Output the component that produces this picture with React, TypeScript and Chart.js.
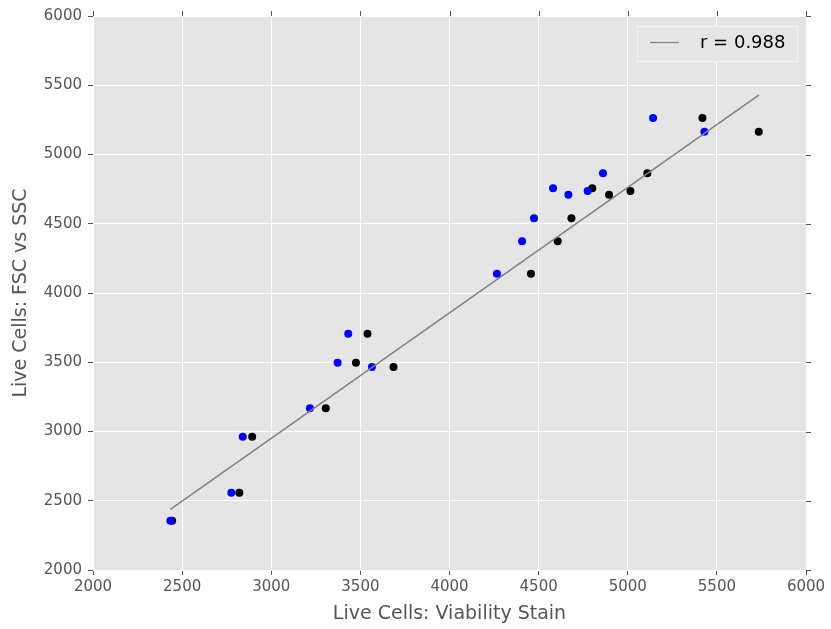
import React, { useEffect, useRef } from "react";
import { Chart, registerables } from "chart.js";

Chart.register(...registerables);

// Paired measurements: each FSC-vs-SSC count has two viability-stain readings
const fscSsc = [2356, 2558, 2962, 3167, 3497, 3706, 3466, 4139, 4373, 4539, 4756, 4710, 4736, 4864, 5264, 5165];
const stainBlue = [2434, 2776, 2840, 3217, 3372, 3432, 3565, 4266, 4407, 4474, 4581, 4667, 4775, 4861, 5142, 5430];
const stainBlack = [2444, 2821, 2893, 3306, 3475, 3540, 3686, 4457, 4607, 4684, 4801, 4895, 5015, 5110, 5419, 5735];

// Linear fit through the data
const fitSlope = 0.906;
const fitIntercept = 233;
const fitLabel = "r = 0.988";

const axisTicks = [2000, 2500, 3000, 3500, 4000, 4500, 5000, 5500, 6000];

const TICK_COLOR = "#555555";
const FONT = "'DejaVu Sans', sans-serif";

const allX = [...stainBlue, ...stainBlack];
const fitX = [Math.min(...allX), Math.max(...allX)];

const panelPlugin = {
  id: "panel",
  beforeDraw(chart: any) {
    const { ctx, chartArea: a } = chart;
    ctx.save();
    ctx.fillStyle = "#e5e5e5";
    ctx.fillRect(a.left, a.top, a.right - a.left, a.bottom - a.top);
    ctx.restore();
  },
  afterDraw(chart: any) {
    const { ctx, chartArea: a, scales } = chart;
    ctx.save();
    // tick marks on the top and right edges
    ctx.strokeStyle = TICK_COLOR;
    ctx.lineWidth = 1;
    ctx.beginPath();
    for (const t of axisTicks) {
      const px = Math.round(scales.x.getPixelForValue(t)) + 0.5;
      ctx.moveTo(px, a.top);
      ctx.lineTo(px, a.top - 5);
      const py = Math.round(scales.y.getPixelForValue(t)) + 0.5;
      ctx.moveTo(a.right, py);
      ctx.lineTo(a.right + 5, py);
    }
    ctx.stroke();

    // legend box in the upper right
    const bw = 160;
    const bh = 35;
    const bx = a.right - 9 - bw;
    const by = a.top + 10;
    ctx.fillStyle = "#e5e5e5";
    ctx.fillRect(bx, by, bw, bh);
    ctx.strokeStyle = "#f4f4f4";
    ctx.lineWidth = 1;
    ctx.strokeRect(bx + 0.5, by + 0.5, bw, bh);
    ctx.strokeStyle = "#808080";
    ctx.lineWidth = 1.2;
    ctx.beginPath();
    ctx.moveTo(bx + 13, by + 16.5);
    ctx.lineTo(bx + 42, by + 16.5);
    ctx.stroke();
    ctx.fillStyle = "#000000";
    ctx.font = `18px ${FONT}`;
    ctx.textBaseline = "middle";
    ctx.textAlign = "left";
    ctx.fillText(fitLabel, bx + 63, by + 17.5);
    ctx.restore();
  },
};

export default function App() {
  const ref = useRef<HTMLCanvasElement | null>(null);

  useEffect(() => {
    if (!ref.current) return;
    const chart = new Chart(ref.current, {
      type: "scatter",
      data: {
        datasets: [
          {
            label: fitLabel,
            type: "line",
            data: fitX.map((x) => ({ x, y: fitIntercept + fitSlope * x })),
            borderColor: "#808080",
            borderWidth: 1.5,
            pointRadius: 0,
            showLine: true,
            fill: false,
            order: 0,
          } as any,
          {
            label: "blue",
            data: stainBlue.map((x, i) => ({ x, y: fscSsc[i] })),
            backgroundColor: "#0000ff",
            borderColor: "#0000ff",
            pointRadius: 4,
            pointBorderWidth: 0,
            order: 1,
          },
          {
            label: "black",
            data: stainBlack.map((x, i) => ({ x, y: fscSsc[i] })),
            backgroundColor: "#000000",
            borderColor: "#000000",
            pointRadius: 4,
            pointBorderWidth: 0,
            order: 2,
          },
        ],
      },
      options: {
        responsive: false,
        animation: false,
        layout: { padding: { top: 16, right: 25, left: 0, bottom: 0 } },
        plugins: {
          legend: { display: false },
          tooltip: { enabled: false },
        },
        scales: {
          x: {
            type: "linear",
            min: 2000,
            max: 6000,
            afterBuildTicks: (s: any) => {
              s.ticks = axisTicks.map((v) => ({ value: v }));
            },
            afterFit: (s: any) => {
              s.height = 59;
            },
            ticks: {
              color: TICK_COLOR,
              font: { family: FONT, size: 15 },
              padding: 3,
              maxRotation: 0,
              callback: (v: any) => String(v),
            },
            grid: {
              color: "#ffffff",
              lineWidth: 1,
              tickColor: TICK_COLOR,
              tickLength: 5,
              drawTicks: true,
            },
            border: { display: false },
            title: {
              display: true,
              text: "Live Cells: Viability Stain",
              color: TICK_COLOR,
              font: { family: FONT, size: 19 },
              padding: { top: 0, bottom: 4 },
            },
          },
          y: {
            type: "linear",
            min: 2000,
            max: 6000,
            afterBuildTicks: (s: any) => {
              s.ticks = axisTicks.map((v) => ({ value: v }));
            },
            afterFit: (s: any) => {
              s.width = 93;
            },
            ticks: {
              color: TICK_COLOR,
              font: { family: FONT, size: 15 },
              padding: 6,
              callback: (v: any) => String(v),
            },
            grid: {
              color: "#ffffff",
              lineWidth: 1,
              tickColor: TICK_COLOR,
              tickLength: 5,
              drawTicks: true,
            },
            border: { display: false },
            title: {
              display: true,
              text: "Live Cells: FSC vs SSC",
              color: TICK_COLOR,
              font: { family: FONT, size: 19 },
              padding: { top: 10, bottom: 0 },
            },
          },
        },
      },
      plugins: [panelPlugin],
    });
    return () => chart.destroy();
  }, []);

  return (
    <div style={{ position: "fixed", left: 0, top: 0, width: 831, height: 629, background: "#ffffff" }}>
      <canvas ref={ref} width={831} height={629} style={{ display: "block" }} />
    </div>
  );
}
